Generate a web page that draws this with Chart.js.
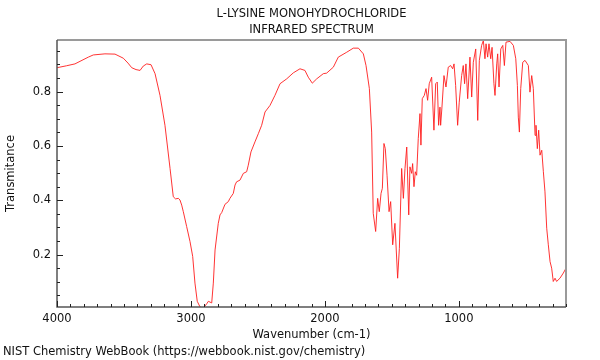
<!DOCTYPE html>
<html>
<head>
<meta charset="utf-8">
<script src="https://cdn.jsdelivr.net/npm/chart.js@4.4.1/dist/chart.umd.min.js"></script>
<style>
  html, body { margin: 0; padding: 0; background: #fff; }
  #wrap { width: 600px; height: 360px; position: relative; }
</style>
</head>
<body>
<div id="wrap"><canvas id="irChart" width="600" height="360"></canvas></div>
<script>
// spectrum (wavenumber in cm-1, transmittance)
const wavenumbers = [
  4000, 3930, 3866, 3766, 3729, 3642, 3567, 3505, 3470, 3442, 3410, 3380, 3356, 3330, 3298,
  3268, 3231, 3194, 3156, 3132, 3115, 3094, 3082, 3069, 3057, 3032, 3007, 2987, 2970, 2953,
  2932, 2908, 2882, 2870, 2845, 2833, 2820, 2796, 2783, 2770, 2746, 2721, 2709, 2684, 2671,
  2659, 2634, 2609, 2584, 2572, 2552, 2522, 2497, 2472, 2447, 2410, 2373, 2335, 2285, 2236,
  2186, 2149, 2124, 2094, 2061, 2012, 1987, 1937, 1900, 1837, 1788, 1750, 1713, 1693, 1668,
  1651, 1639, 1621, 1606, 1594, 1581, 1571, 1559, 1549, 1536, 1521, 1509, 1494, 1477, 1457,
  1444, 1427, 1414, 1402, 1389, 1374, 1365, 1352, 1345, 1335, 1325, 1315, 1303, 1290, 1283,
  1273, 1258, 1245, 1233, 1221, 1203, 1186, 1173, 1161, 1151, 1141, 1136, 1126, 1111, 1096,
  1079, 1061, 1046, 1036, 1024, 1009, 997, 979, 967, 957, 947, 934, 917, 904, 892,
  874, 859, 847, 830, 817, 805, 797, 785, 775, 762, 752, 738, 730, 717, 710,
  700, 687, 672, 660, 648, 618, 593, 575, 563, 556, 548, 538, 523, 506, 481,
  469, 456, 444, 431, 424, 414, 404, 394, 381, 369, 357, 344, 332, 319, 307,
  295, 282, 270, 245, 220, 200
];
const transmittance = [
  0.888, 0.895, 0.902, 0.927, 0.935, 0.939, 0.938, 0.923, 0.905, 0.888, 0.881, 0.878, 0.894, 0.902, 0.899,
  0.866, 0.786, 0.676, 0.517, 0.413, 0.405, 0.407, 0.401, 0.382, 0.358, 0.303, 0.248, 0.193, 0.095, 0.028,
  0.007, 0.003, 0.019, 0.028, 0.022, 0.095, 0.217, 0.315, 0.346, 0.355, 0.385, 0.395, 0.407, 0.425, 0.456,
  0.468, 0.474, 0.499, 0.505, 0.529, 0.578, 0.615, 0.645, 0.676, 0.725, 0.749, 0.786, 0.829, 0.847, 0.869,
  0.884, 0.878, 0.853, 0.831, 0.847, 0.866, 0.868, 0.890, 0.927, 0.945, 0.960, 0.960, 0.939, 0.896, 0.811,
  0.651, 0.352, 0.285, 0.407, 0.358, 0.425, 0.444, 0.609, 0.590, 0.492, 0.358, 0.395, 0.236, 0.315, 0.113,
  0.223, 0.517, 0.407, 0.517, 0.596, 0.346, 0.523, 0.499, 0.535, 0.450, 0.505, 0.492, 0.627, 0.719, 0.603,
  0.774, 0.786, 0.811, 0.768, 0.829, 0.853, 0.658, 0.829, 0.835, 0.676, 0.743, 0.676, 0.743, 0.859, 0.817,
  0.890, 0.896, 0.884, 0.902, 0.823, 0.676, 0.761, 0.859, 0.896, 0.829, 0.902, 0.774, 0.927, 0.780, 0.908,
  0.957, 0.694, 0.915, 0.970, 0.988, 0.921, 0.976, 0.927, 0.976, 0.921, 0.963, 0.829, 0.786, 0.902, 0.939,
  0.817, 0.957, 0.970, 0.896, 0.982, 0.985, 0.970, 0.921, 0.823, 0.706, 0.651, 0.811, 0.908, 0.915, 0.896,
  0.798, 0.859, 0.811, 0.639, 0.676, 0.590, 0.658, 0.566, 0.584, 0.505, 0.431, 0.297, 0.236, 0.174, 0.150,
  0.101, 0.113, 0.101, 0.113, 0.132, 0.150
];

const xTickLabels = [4000, 3000, 2000, 1000];
const yTickLabels = [0.2, 0.4, 0.6, 0.8];
const titleLines = ['L-LYSINE MONOHYDROCHLORIDE', 'INFRARED SPECTRUM'];

const FONT = 'DejaVu Sans';

// inward ticks, grey frame on top/right, title over the plot, footer
const framePlugin = {
  id: 'frame',
  afterDraw(chart) {
    const { ctx, chartArea: a, scales: { x, y } } = chart;
    ctx.save();
    ctx.strokeStyle = '#9a9a9a';
    ctx.lineWidth = 2;
    ctx.beginPath();
    ctx.moveTo(a.left, a.top);
    ctx.lineTo(a.right, a.top);
    ctx.lineTo(a.right, a.bottom);
    ctx.stroke();

    ctx.strokeStyle = '#555';
    ctx.lineWidth = 1.5;
    ctx.beginPath();
    ctx.moveTo(a.left, a.top);
    ctx.lineTo(a.left, a.bottom);
    ctx.lineTo(a.right, a.bottom);
    ctx.stroke();

    ctx.strokeStyle = '#222';
    ctx.lineWidth = 1;
    ctx.beginPath();
    for (let v = 200; v <= 4000; v += 100) {
      const px = Math.round(x.getPixelForValue(v)) + 0.5;
      const len = v % 1000 === 0 ? 6 : 3;
      ctx.moveTo(px, a.bottom);
      ctx.lineTo(px, a.bottom - len);
    }
    for (let i = 1; i <= 19; i++) {
      const v = i * 0.05;
      const py = Math.round(y.getPixelForValue(v)) + 0.5;
      const len = i % 4 === 0 ? 6 : 3;
      ctx.moveTo(a.left, py);
      ctx.lineTo(a.left + len, py);
    }
    ctx.stroke();

    ctx.fillStyle = '#111';
    ctx.font = '11.5px "' + FONT + '"';
    ctx.textBaseline = 'middle';
    ctx.textAlign = 'center';
    const cx = (a.left + a.right) / 2;
    ctx.fillText(titleLines[0], cx, 14);
    ctx.fillText(titleLines[1], cx, 30);
    ctx.textAlign = 'left';
    ctx.fillText('NIST Chemistry WebBook (https://webbook.nist.gov/chemistry)', 3, 352);
    ctx.restore();
  }
};

const ctx = document.getElementById('irChart').getContext('2d');
const irChart = new Chart(ctx, {
  type: 'scatter',
  data: {
    datasets: [{
      data: wavenumbers.map((w, i) => ({ x: w, y: transmittance[i] })),
      showLine: true,
      borderColor: 'rgba(255, 30, 30, 0.9)',
      borderWidth: 1,
      pointRadius: 0,
      tension: 0
    }]
  },
  options: {
    responsive: false,
    animation: false,
    layout: { padding: { left: 0, right: 34, top: 40, bottom: 18 } },
    plugins: {
      legend: { display: false },
      tooltip: { enabled: false },
      title: { display: false }
    },
    scales: {
      x: {
        type: 'linear',
        reverse: true,
        min: 200,
        max: 4000,
        grid: { display: false, drawTicks: false },
        border: { display: false },
        afterBuildTicks: s => { s.ticks = xTickLabels.map(v => ({ value: v })); },
        afterFit: s => { s.height = 35; },
        ticks: {
          padding: 5,
          maxRotation: 0,
          color: '#111',
          font: { family: FONT, size: 11.5 },
          callback: v => String(v)
        },
        title: {
          display: true,
          text: 'Wavenumber (cm-1)',
          color: '#111',
          font: { family: FONT, size: 11.5 },
          padding: { top: 0, bottom: 0 }
        }
      },
      y: {
        min: 0.007,
        max: 0.99,
        grid: { display: false, drawTicks: false },
        border: { display: false },
        afterBuildTicks: s => { s.ticks = yTickLabels.map(v => ({ value: v })); },
        afterFit: s => { s.width = 57; },
        ticks: {
          padding: 6,
          color: '#111',
          font: { family: FONT, size: 11.5 },
          callback: v => v.toFixed(1)
        },
        title: {
          display: true,
          text: 'Transmitance',
          color: '#111',
          font: { family: FONT, size: 11.5 },
          padding: { top: 4, bottom: 0 }
        }
      }
    }
  },
  plugins: [framePlugin]
});
</script>
</body>
</html>
